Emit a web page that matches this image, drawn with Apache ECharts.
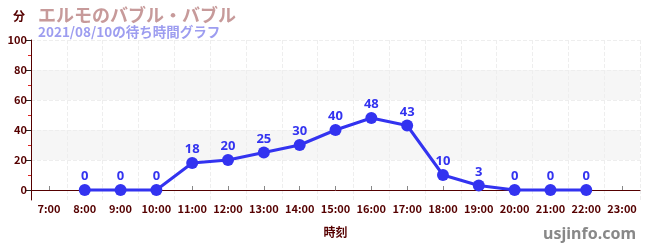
<!DOCTYPE html>
<html><head><meta charset="utf-8">
<script src="https://cdn.jsdelivr.net/npm/echarts@6/dist/echarts.min.js"></script>
<style>html,body{margin:0;padding:0;background:#fff}#c{width:650px;height:250px}</style>
</head><body><div id="c"></div>
<script>
const categories = ['7:00','8:00','9:00','10:00','11:00','12:00','13:00','14:00','15:00','16:00','17:00','18:00','19:00','20:00','21:00','22:00','23:00'];
const waitTimes = [null,0,0,0,18,20,25,30,40,48,43,10,3,0,0,0,null];
const yTicks = [0,20,40,60,80,100];
const yMinorTicks = [10,30,50,70,90];
const titleText = 'エルモのバブル・バブル';
const subtitleText = '2021/08/10の待ち時間グラフ';
const font = '"Noto Sans CJK JP", "Noto Sans", sans-serif';
const chart = echarts.init(document.getElementById('c'), null, {renderer:'canvas'});
const yMin = -20/3, yMax = 100;
chart.setOption({
  animation:false,
  title:{text:titleText, subtext:subtitleText, left:33, top:1, itemGap:1,
    textStyle:{color:'#c79a9a', fontSize:18, fontWeight:'bold', fontFamily:font},
    subtextStyle:{color:'#9d9df0', fontSize:13.5, fontWeight:'bold', fontFamily:font}},
  graphic:[{type:'text', right:14, bottom:8, style:{text:'usjinfo.com', fill:'#888', font:'bold 16px "Noto Sans", sans-serif'}}],
  grid:{left:31, right:10, top:40, bottom:50, containLabel:false},
  xAxis:{type:'category', data:categories, boundaryGap:true,
    name:'時刻', nameLocation:'middle', nameGap:26,
    nameTextStyle:{color:'#550000', fontWeight:'bold', fontSize:12, fontFamily:font},
    axisLine:{lineStyle:{color:'#550000', width:1}},
    axisTick:{show:true, inside:true, alignWithLabel:true, length:4, lineStyle:{color:'#888'}},
    axisLabel:{color:'#550000', fontSize:11, fontWeight:'bold', fontFamily:font, margin:3, interval:0},
    splitLine:{show:true, interval:0, lineStyle:{color:'#eee', type:'dashed'}}},
  yAxis:[{type:'value', min:yMin, max:yMax, interval:20,
    name:'分', nameLocation:'end', nameGap:18,
    nameTextStyle:{color:'#550000', fontWeight:'bold', fontSize:12, fontFamily:font, align:'right', padding:[0,6,0,0]},
    axisLine:{show:true, lineStyle:{color:'#550000'}},
    axisTick:{show:true, length:5, lineStyle:{color:'#222'}, customValues:yTicks},
    axisLabel:{color:'#550000', fontSize:11, fontWeight:'bold', fontFamily:font, margin:4, customValues:yTicks},
    splitLine:{show:true, lineStyle:{color:'#eee', type:'dashed'}},
    splitArea:{show:true, areaStyle:{color:['rgba(0,0,0,0)','#f6f6f6']}}},
    {type:'value', min:yMin, max:yMax, interval:20, position:'left',
    axisLine:{show:false},
    axisTick:{show:true, length:3, lineStyle:{color:'#dd2222'}, customValues:yMinorTicks},
    axisLabel:{show:false}, splitLine:{show:false}, splitArea:{show:false}}],
  series:[{type:'line', data:waitTimes, symbol:'circle', symbolSize:12,
    lineStyle:{color:'#3333f0', width:3}, itemStyle:{color:'#3333f0'},
    label:{show:true, position:'top', color:'#3333f0', fontSize:13, fontWeight:'bold', fontFamily:'"Noto Sans", sans-serif', distance:1}}]
});
</script></body></html>
